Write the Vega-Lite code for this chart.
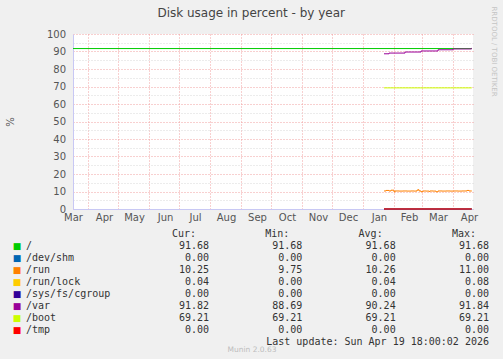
{
  "$schema": "https://vega.github.io/schema/vega-lite/v6.json",
  "background": "#F0F0F0",
  "padding": {"left": 5, "top": 5, "right": 6, "bottom": 6},
  "spacing": 6,
  "title": {"text": "Disk usage in percent - by year", "anchor": "middle", "frame": "bounds", "offset": -14, "font": "DejaVu Sans", "fontSize": 12, "fontWeight": "normal", "color": "#444444"},
  "config": {"view": {"stroke": null}, "font": "DejaVu Sans"},
  "vconcat": [
    {
      "width": 400,
      "height": 175,
      "view": {"fill": "white", "stroke": null},
      "data": {"values": [
        {"series": "/", "date": "2025-03-17T00:00:00", "value": 91.68},
        {"series": "/", "date": "2026-04-19T18:00:00", "value": 91.68},
        {"series": "/dev/shm", "date": "2026-01-22T00:00:00", "value": 0},
        {"series": "/dev/shm", "date": "2026-04-19T18:00:00", "value": 0},
        {"series": "/run", "date": "2026-01-22T00:00:00", "value": 10.30},
        {"series": "/run", "date": "2026-01-24T00:00:00", "value": 10.60},
        {"series": "/run", "date": "2026-01-27T00:00:00", "value": 10.30},
        {"series": "/run", "date": "2026-01-29T00:00:00", "value": 10.75},
        {"series": "/run", "date": "2026-02-01T00:00:00", "value": 9.75},
        {"series": "/run", "date": "2026-02-02T00:00:00", "value": 10.30},
        {"series": "/run", "date": "2026-02-06T00:00:00", "value": 10.25},
        {"series": "/run", "date": "2026-02-10T00:00:00", "value": 10.30},
        {"series": "/run", "date": "2026-02-14T00:00:00", "value": 10.25},
        {"series": "/run", "date": "2026-02-18T00:00:00", "value": 10.30},
        {"series": "/run", "date": "2026-02-21T00:00:00", "value": 10.25},
        {"series": "/run", "date": "2026-02-24T00:00:00", "value": 10.80},
        {"series": "/run", "date": "2026-02-25T00:00:00", "value": 11.00},
        {"series": "/run", "date": "2026-02-26T00:00:00", "value": 10.30},
        {"series": "/run", "date": "2026-02-28T00:00:00", "value": 9.90},
        {"series": "/run", "date": "2026-03-02T00:00:00", "value": 10.30},
        {"series": "/run", "date": "2026-03-05T00:00:00", "value": 10.25},
        {"series": "/run", "date": "2026-03-08T00:00:00", "value": 10.05},
        {"series": "/run", "date": "2026-03-09T00:00:00", "value": 10.30},
        {"series": "/run", "date": "2026-03-12T00:00:00", "value": 10.25},
        {"series": "/run", "date": "2026-03-15T00:00:00", "value": 9.85},
        {"series": "/run", "date": "2026-03-17T00:00:00", "value": 10.30},
        {"series": "/run", "date": "2026-03-21T00:00:00", "value": 10.25},
        {"series": "/run", "date": "2026-03-25T00:00:00", "value": 10.30},
        {"series": "/run", "date": "2026-03-29T00:00:00", "value": 10.25},
        {"series": "/run", "date": "2026-04-02T00:00:00", "value": 10.30},
        {"series": "/run", "date": "2026-04-06T00:00:00", "value": 10.25},
        {"series": "/run", "date": "2026-04-10T00:00:00", "value": 10.30},
        {"series": "/run", "date": "2026-04-15T00:00:00", "value": 10.60},
        {"series": "/run", "date": "2026-04-17T00:00:00", "value": 10.30},
        {"series": "/run", "date": "2026-04-19T18:00:00", "value": 10.25},
        {"series": "/run/lock", "date": "2026-01-22T00:00:00", "value": 0.04},
        {"series": "/run/lock", "date": "2026-02-20T00:00:00", "value": 0.08},
        {"series": "/run/lock", "date": "2026-02-21T00:00:00", "value": 0.04},
        {"series": "/run/lock", "date": "2026-03-10T00:00:00", "value": 0.00},
        {"series": "/run/lock", "date": "2026-03-11T00:00:00", "value": 0.04},
        {"series": "/run/lock", "date": "2026-04-19T18:00:00", "value": 0.04},
        {"series": "/sys/fs/cgroup", "date": "2026-01-22T00:00:00", "value": 0},
        {"series": "/sys/fs/cgroup", "date": "2026-04-19T18:00:00", "value": 0},
        {"series": "/var", "date": "2026-01-22T00:00:00", "value": 88.69},
        {"series": "/var", "date": "2026-01-27T00:00:00", "value": 89.10},
        {"series": "/var", "date": "2026-02-12T00:00:00", "value": 89.70},
        {"series": "/var", "date": "2026-02-28T00:00:00", "value": 90.30},
        {"series": "/var", "date": "2026-03-17T00:00:00", "value": 91.00},
        {"series": "/var", "date": "2026-04-01T00:00:00", "value": 91.45},
        {"series": "/var", "date": "2026-04-19T12:00:00", "value": 91.82},
        {"series": "/var", "date": "2026-04-19T18:00:00", "value": 91.82},
        {"series": "/boot", "date": "2026-01-22T00:00:00", "value": 69.21},
        {"series": "/boot", "date": "2026-04-19T18:00:00", "value": 69.21},
        {"series": "/tmp", "date": "2026-01-22T00:00:00", "value": 0},
        {"series": "/tmp", "date": "2026-04-19T18:00:00", "value": 0}
      ]},
      "layer": [
        {
          "transform": [{"filter": "datum.series === '/'"}],
          "mark": {"type": "line", "strokeWidth": 1, "interpolate": "step-after"},
          "encoding": {
            "x": {"field": "date", "type": "temporal",
              "scale": {"domain": [{"year": 2025, "month": 3, "date": 17}, {"year": 2026, "month": 4, "date": 21}]},
              "axis": {"orient": "top", "title": null, "labels": false, "ticks": false, "domain": false, "grid": true,
                "gridColor": "#f0a0a0", "gridDash": [1, 2], "gridWidth": 1,
                "values": [
                  {"year": 2025, "month": 4, "date": 1}, {"year": 2025, "month": 5, "date": 1}, {"year": 2025, "month": 6, "date": 1},
                  {"year": 2025, "month": 7, "date": 1}, {"year": 2025, "month": 8, "date": 1}, {"year": 2025, "month": 9, "date": 1},
                  {"year": 2025, "month": 10, "date": 1}, {"year": 2025, "month": 11, "date": 1}, {"year": 2025, "month": 12, "date": 1},
                  {"year": 2026, "month": 1, "date": 1}, {"year": 2026, "month": 2, "date": 1}, {"year": 2026, "month": 3, "date": 1},
                  {"year": 2026, "month": 4, "date": 1}
                ]}},
            "y": {"field": "value", "type": "quantitative",
              "scale": {"domain": [0, 100], "nice": false},
              "axis": {"orient": "right", "labels": false, "ticks": false, "domain": false, "grid": true,
                "gridColor": "#d8d8d8", "gridDash": [1, 2], "gridWidth": 1,
                "values": [5, 15, 25, 35, 45, 55, 65, 75, 85, 95],
                "title": "RRDTOOL / TOBI OETIKER", "titleAngle": 90, "titleX": 20, "titleY": -28,
                "titleAlign": "left", "titleBaseline": "middle", "titleFontSize": 7, "titleFontWeight": "normal",
                "titleColor": "#c4c4c4", "titleFont": "DejaVu Sans"}},
            "color": {"field": "series", "type": "nominal",
              "scale": {"domain": ["/", "/dev/shm", "/run", "/run/lock", "/sys/fs/cgroup", "/var", "/boot", "/tmp"],
                "range": ["#00CC00", "#0066B3", "#FF8000", "#FFCC00", "#330099", "#990099", "#CCFF00", "#FF0000"]},
              "legend": null}
          }
        },
        {
          "transform": [{"filter": "datum.series !== '/'"}],
          "mark": {"type": "line", "strokeWidth": 1, "interpolate": "step-after"},
          "encoding": {
            "x": {"field": "date", "type": "temporal",
              "axis": {"orient": "bottom", "title": null, "format": "%b", "ticks": false, "tickSize": 0, "grid": false,
                "domain": true, "domainColor": "#c8c8f4", "labelPadding": 3, "labelFontSize": 10, "labelColor": "#555555",
                "labelFont": "DejaVu Sans", "labelFlush": false, "labelOverlap": false,
                "values": [
                  {"year": 2025, "month": 3, "date": 17}, {"year": 2025, "month": 4, "date": 17}, {"year": 2025, "month": 5, "date": 17},
                  {"year": 2025, "month": 6, "date": 17}, {"year": 2025, "month": 7, "date": 17}, {"year": 2025, "month": 8, "date": 17},
                  {"year": 2025, "month": 9, "date": 17}, {"year": 2025, "month": 10, "date": 17}, {"year": 2025, "month": 11, "date": 17},
                  {"year": 2025, "month": 12, "date": 17}, {"year": 2026, "month": 1, "date": 17}, {"year": 2026, "month": 2, "date": 16},
                  {"year": 2026, "month": 3, "date": 17}, {"year": 2026, "month": 4, "date": 17}
                ]}},
            "y": {"field": "value", "type": "quantitative",
              "axis": {"orient": "left", "values": [0, 10, 20, 30, 40, 50, 60, 70, 80, 90, 100],
                "ticks": false, "tickSize": 0, "labelPadding": 7.5, "labelFontSize": 10, "labelColor": "#555555",
                "labelFont": "DejaVu Sans", "labelOverlap": false, "labelBound": false,
                "domain": true, "domainColor": "#c8c8f4",
                "grid": true, "gridColor": "#f0a0a0", "gridDash": [1, 2], "gridWidth": 1,
                "title": "%", "titleFontSize": 10, "titleFontWeight": "normal", "titleColor": "#555555",
                "titleFont": "DejaVu Sans", "titlePadding": 31}},
            "color": {"field": "series", "type": "nominal", "legend": null}
          }
        }
      ],
      "resolve": {"axis": {"x": "independent", "y": "independent"}}
    },
    {
      "width": 416,
      "height": 120,
      "view": {"stroke": null},
      "title": {"text": "Munin 2.0.63", "orient": "bottom", "anchor": "middle", "frame": "group", "offset": -2, "dx": -29,
        "fontSize": 7.5, "fontWeight": "normal", "color": "#bdbdbd", "font": "DejaVu Sans"},
      "layer": [
        {
          "data": {"name": "legendrows", "values": [
            {"name": "/", "cur": 91.68, "min": 91.68, "avg": 91.68, "max": 91.68},
            {"name": "/dev/shm", "cur": 0, "min": 0, "avg": 0, "max": 0},
            {"name": "/run", "cur": 10.25, "min": 9.75, "avg": 10.26, "max": 11.00},
            {"name": "/run/lock", "cur": 0.04, "min": 0.00, "avg": 0.04, "max": 0.08},
            {"name": "/sys/fs/cgroup", "cur": 0, "min": 0, "avg": 0, "max": 0},
            {"name": "/var", "cur": 91.82, "min": 88.69, "avg": 90.24, "max": 91.84},
            {"name": "/boot", "cur": 69.21, "min": 69.21, "avg": 69.21, "max": 69.21},
            {"name": "/tmp", "cur": 0, "min": 0, "avg": 0, "max": 0}
          ]},
          "layer": [
            {
              "mark": {"type": "text", "text": "■", "dx": -98.7, "fontSize": 9, "align": "center", "baseline": "middle", "font": "DejaVu Sans"},
              "encoding": {
                "x": {"datum": "name", "type": "nominal",
                  "scale": {"type": "point", "domain": ["name", "cur", "min", "avg", "max"], "padding": 0.2286, "align": 1}, "axis": null},
                "y": {"field": "name", "type": "nominal",
                  "scale": {"type": "point", "domain": ["header", "/", "/dev/shm", "/run", "/run/lock", "/sys/fs/cgroup", "/var", "/boot", "/tmp", "footer"], "padding": 0.5}, "axis": null},
                "color": {"field": "name", "type": "nominal",
                  "scale": {"domain": ["/", "/dev/shm", "/run", "/run/lock", "/sys/fs/cgroup", "/var", "/boot", "/tmp"],
                    "range": ["#00CC00", "#0066B3", "#FF8000", "#FFCC00", "#330099", "#990099", "#CCFF00", "#FF0000"]},
                  "legend": null}
              }
            },
            {
              "mark": {"type": "text", "dx": -89.7, "fontSize": 10, "align": "left", "baseline": "middle", "font": "DejaVu Sans Mono", "color": "#333333"},
              "encoding": {
                "x": {"datum": "name", "type": "nominal"},
                "y": {"field": "name", "type": "nominal"},
                "text": {"field": "name"}
              }
            },
            {
              "transform": [{"fold": ["cur", "min", "avg", "max"], "as": ["col", "value"]}],
              "mark": {"type": "text", "fontSize": 10, "align": "right", "baseline": "middle", "font": "DejaVu Sans Mono", "color": "#333333"},
              "encoding": {
                "x": {"field": "col", "type": "nominal"},
                "y": {"field": "name", "type": "nominal"},
                "text": {"field": "value", "type": "quantitative", "format": ".2f"}
              }
            }
          ]
        },
        {
          "data": {"values": [
            {"col": "cur", "label": "Cur:"}, {"col": "min", "label": "Min:"},
            {"col": "avg", "label": "Avg:"}, {"col": "max", "label": "Max:"}
          ]},
          "mark": {"type": "text", "dx": -13, "fontSize": 10, "align": "right", "baseline": "middle", "font": "DejaVu Sans Mono", "color": "#333333"},
          "encoding": {
            "x": {"field": "col", "type": "nominal"},
            "y": {"datum": "header", "type": "nominal"},
            "text": {"field": "label"}
          }
        },
        {
          "data": {"values": [{"label": "Last update: Sun Apr 19 18:00:02 2026"}]},
          "mark": {"type": "text", "fontSize": 10, "align": "right", "baseline": "middle", "font": "DejaVu Sans Mono", "color": "#333333"},
          "encoding": {
            "x": {"datum": "max", "type": "nominal"},
            "y": {"datum": "footer", "type": "nominal"},
            "text": {"field": "label"}
          }
        }
      ]
    }
  ]
}
